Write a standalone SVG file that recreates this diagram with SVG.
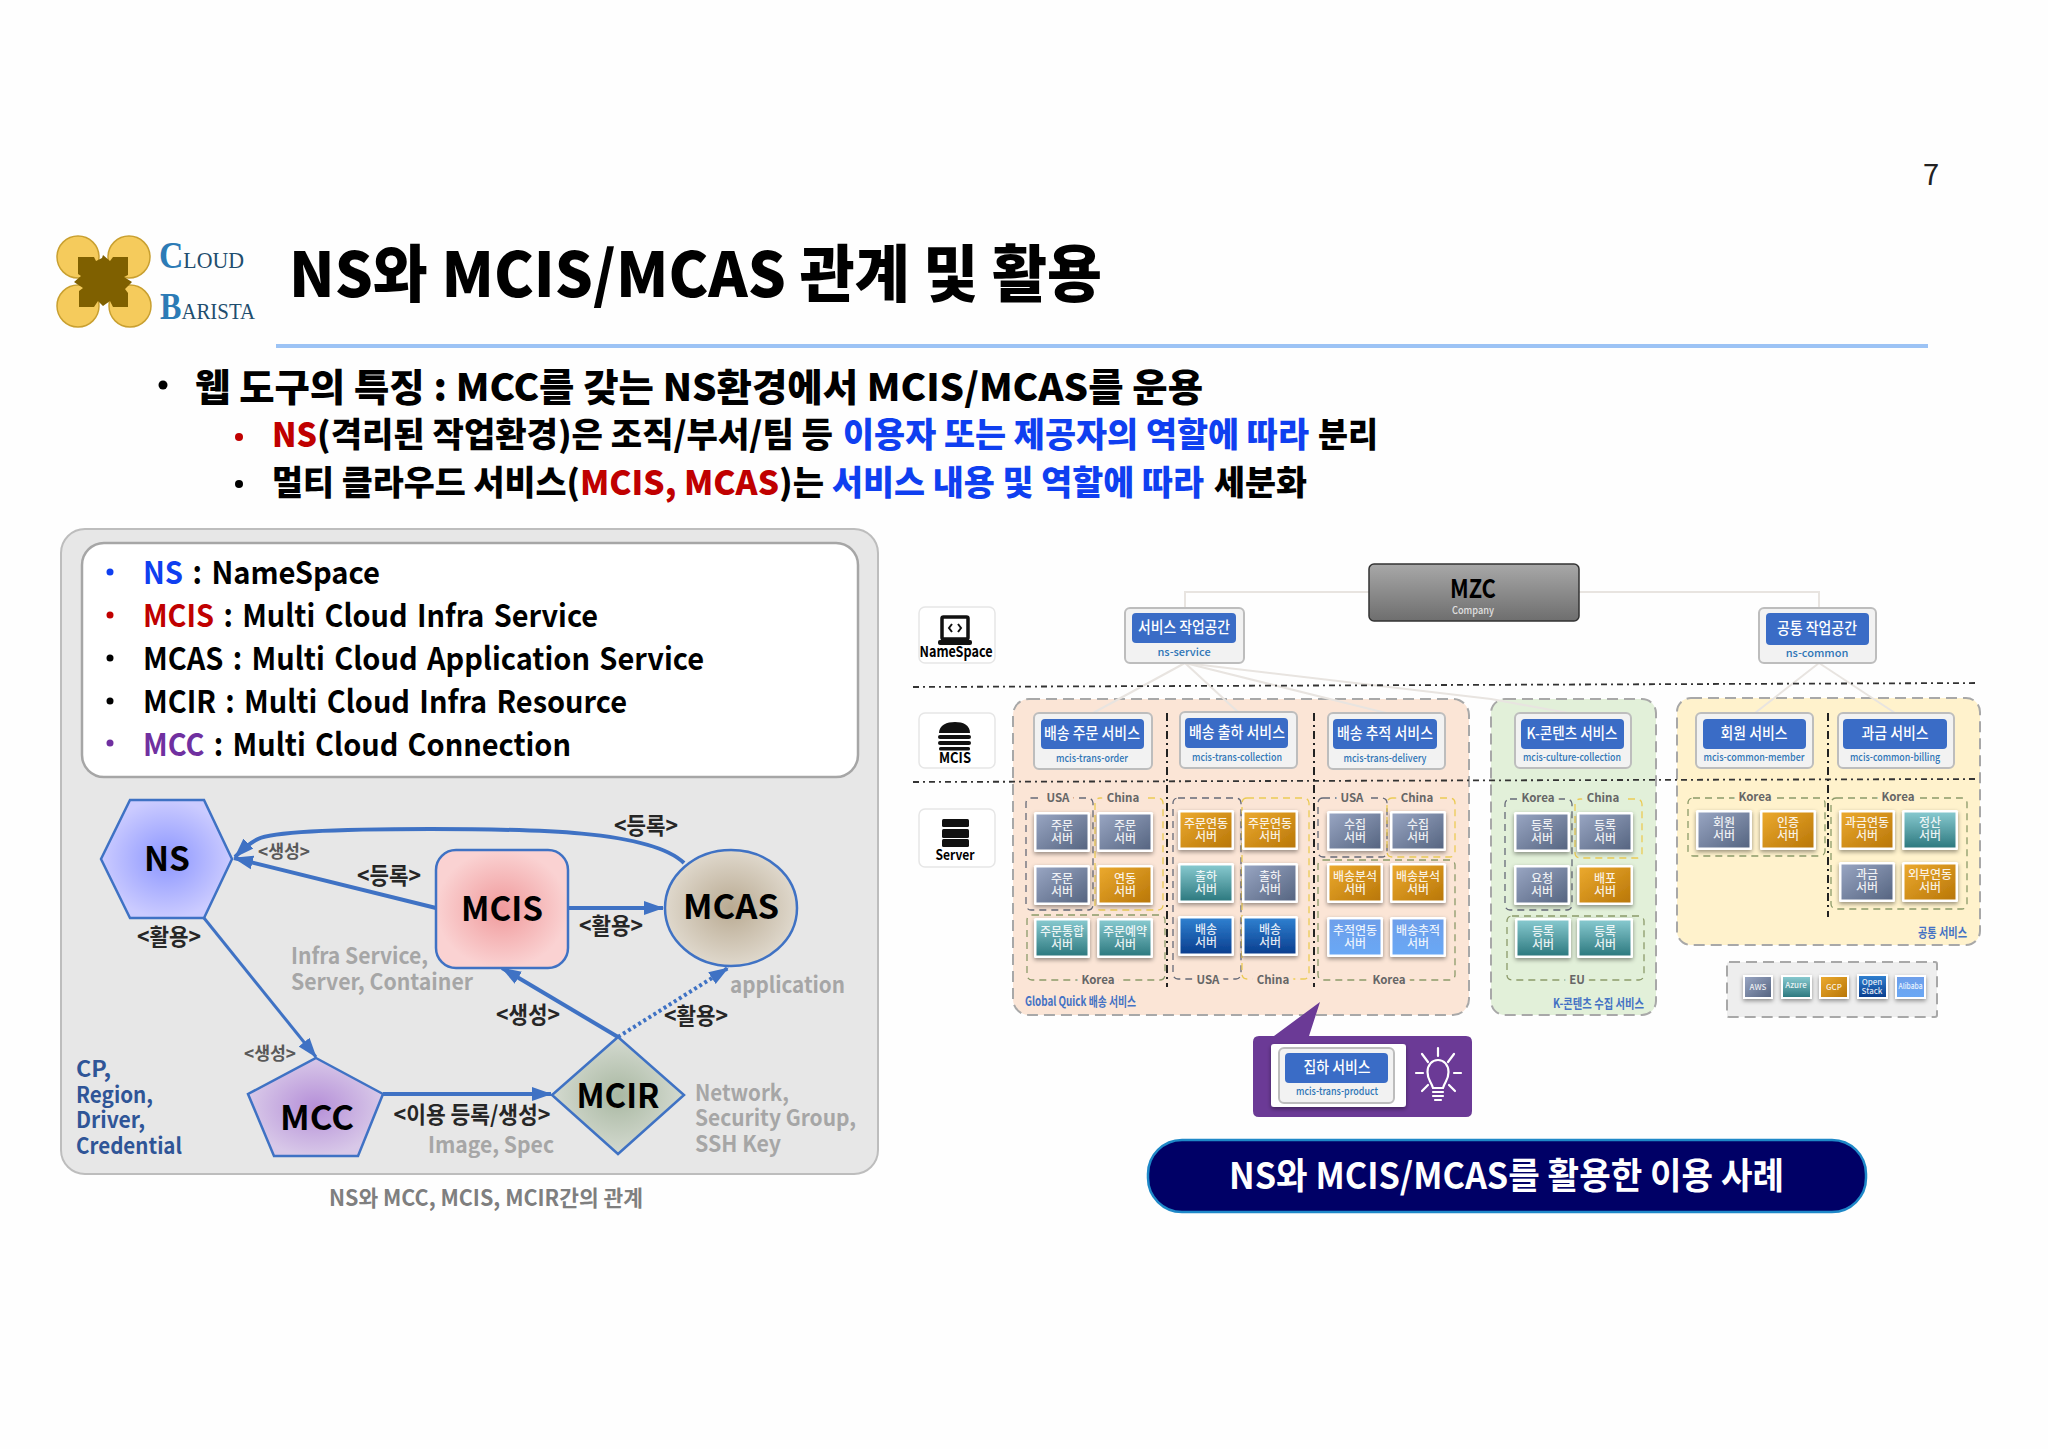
<svg xmlns="http://www.w3.org/2000/svg" width="2048" height="1449" viewBox="0 0 2048 1449">
<style>
text{font-family:"Noto Sans CJK KR","Noto Sans",sans-serif;font-weight:700;fill:#000}
.m{text-anchor:middle}
.hl{font-size:34px;font-weight:900}.bl{fill:#0F3FF0}.rd{fill:#C00000}.pp{fill:#7030A0}
.lg{font-size:31px;word-spacing:3px}
.nd{stroke:#3F72C4;stroke-width:2.5}
.nt{font-size:34px;text-anchor:middle}
.ed{fill:none;stroke:#3F72C4;stroke-width:4}
.lb{font-size:23px;text-anchor:middle;fill:#262626}
.lbs{font-size:18px;text-anchor:middle;fill:#595959}
.gr{font-size:22px;fill:#A6A6A6}
.cp{font-size:22px;fill:#2F5597}
.thin{fill:none;stroke:#E8E4E0;stroke-width:2}
.dd{fill:none;stroke:#333;stroke-width:1.8;stroke-dasharray:6 4 2 4}
.vd{fill:none;stroke:#222;stroke-width:2;stroke-dasharray:8 4 2 4}
.panel{stroke:#A8A8A8;stroke-width:2;stroke-dasharray:11 6}
.card{fill:#F2F2F2;stroke:#BDBDBD;stroke-width:2}
.inner{fill:#3A6CC6}
.ct{font-size:15.5px;fill:#fff;text-anchor:middle;font-weight:500}
.cs{font-size:11px;fill:#2E75B6;text-anchor:middle;font-weight:500}
.icard{fill:#fff;stroke:#E6E6E6;stroke-width:1.5}
.il{font-size:15px;text-anchor:middle}
.rb{fill:none;stroke-width:1.3;stroke-dasharray:7 5}
.r1{stroke:#666A78}.r2{stroke:#EBCB55}.r3{stroke:#8C9A6A}
.rl{font-size:11.5px;text-anchor:middle;fill:#666;stroke-width:10;paint-order:stroke}
.on{stroke:#FBE5D6}.gn{stroke:#E2F0D9}.yl{stroke:#FFF2CC}
.st{font-size:12px;fill:#fff;fill-opacity:.88;text-anchor:middle;font-weight:500}
.pn{font-size:13px;fill:#4472C4;font-weight:700}
.bulb{fill:none;stroke:#fff;stroke-width:2.2;stroke-linecap:round}
</style>
<defs>
<radialGradient id="gNS"><stop offset="0" stop-color="#8C96FF"/><stop offset="1" stop-color="#CBCBFF"/></radialGradient>
<radialGradient id="gIS"><stop offset="0" stop-color="#F09A9C"/><stop offset="1" stop-color="#FAD2D2"/></radialGradient>
<radialGradient id="gAS"><stop offset="0" stop-color="#B9AA92"/><stop offset="1" stop-color="#DFD8CC"/></radialGradient>
<radialGradient id="gCC"><stop offset="0" stop-color="#B58FD8"/><stop offset="1" stop-color="#D8C8E8"/></radialGradient>
<radialGradient id="gIR"><stop offset="0" stop-color="#A9B8A2"/><stop offset="1" stop-color="#D4DAD0"/></radialGradient>
<linearGradient id="gMZ" x1="0" y1="0" x2="0" y2="1"><stop offset="0" stop-color="#A8A8A8"/><stop offset="1" stop-color="#6E6E6E"/></linearGradient>
<linearGradient id="s1" x1="0" y1="0" x2="1" y2="1"><stop offset="0" stop-color="#98A5C2"/><stop offset="1" stop-color="#566581"/></linearGradient>
<linearGradient id="s2" x1="0" y1="0" x2="1" y2="1"><stop offset="0" stop-color="#EBA92E"/><stop offset="1" stop-color="#B97708"/></linearGradient>
<linearGradient id="s3" x1="0" y1="0" x2="0" y2="1"><stop offset="0" stop-color="#86C8CE"/><stop offset="1" stop-color="#2E7A80"/></linearGradient>
<linearGradient id="s4" x1="0" y1="0" x2="0" y2="1"><stop offset="0" stop-color="#2F7FCF"/><stop offset="1" stop-color="#0A3F8F"/></linearGradient>
<linearGradient id="s5" x1="0" y1="0" x2="0" y2="1"><stop offset="0" stop-color="#6E9FEA"/><stop offset="1" stop-color="#6AA8F5"/></linearGradient>
<filter id="sh" x="-20%" y="-20%" width="140%" height="150%"><feDropShadow dx="0" dy="2" stdDeviation="2" flood-color="#000" flood-opacity=".4"/></filter>
<g id="v1" filter="url(#sh)"><rect width="56" height="40" rx="1.5" fill="#fff"/><rect x="2.5" y="2.5" width="51" height="35" fill="url(#s1)"/></g>
<g id="v2" filter="url(#sh)"><rect width="56" height="40" rx="1.5" fill="#fff"/><rect x="2.5" y="2.5" width="51" height="35" fill="url(#s2)"/></g>
<g id="v3" filter="url(#sh)"><rect width="56" height="40" rx="1.5" fill="#fff"/><rect x="2.5" y="2.5" width="51" height="35" fill="url(#s3)"/></g>
<g id="v4" filter="url(#sh)"><rect width="56" height="40" rx="1.5" fill="#fff"/><rect x="2.5" y="2.5" width="51" height="35" fill="url(#s4)"/></g>
<g id="v5" filter="url(#sh)"><rect width="56" height="40" rx="1.5" fill="#fff"/><rect x="2.5" y="2.5" width="51" height="35" fill="url(#s5)"/></g>
<marker id="ah" markerUnits="userSpaceOnUse" markerWidth="20" markerHeight="16" refX="19" refY="8" orient="auto"><path d="M0,1 L20,8 L0,15 Z" fill="#3F72C4"/></marker>
</defs>
<rect width="2048" height="1449" fill="#FEFEFE"/>
<text x="1931" y="185" class="m" style="font-size:29px;font-weight:400;fill:#222">7</text>

<g id="logo">
<ellipse cx="78" cy="257" rx="21" ry="21" fill="#F5CB5C" stroke="#C9A030" stroke-width="1.5"/>
<ellipse cx="129" cy="257" rx="21" ry="21" fill="#F5CB5C" stroke="#C9A030" stroke-width="1.5"/>
<ellipse cx="78" cy="306" rx="21" ry="21" fill="#F5CB5C" stroke="#C9A030" stroke-width="1.5"/>
<ellipse cx="130" cy="306" rx="21" ry="21" fill="#F5CB5C" stroke="#C9A030" stroke-width="1.5"/>
<path d="M78,257 L94,257 L96,261 L102,258 L103,255 L110,261 L113,257 L128,257 L128,275 L124,277 L132,282 L125,289 L128,293 L128,307 L113,307 L110,301 L103,306 L98,301 L94,307 L79,307 L79,291 L83,288 L74,282 L81,276 L78,274 Z" fill="#7F6000"/>
<text x="159" y="268" style="font-family:'Liberation Serif',serif;font-weight:700;font-size:37px;fill:#2C7BB6" textLength="85" lengthAdjust="spacingAndGlyphs">C<tspan style="font-size:24px;font-weight:400;fill:#1F4E6E">LOUD</tspan></text>
<text x="160" y="319" style="font-family:'Liberation Serif',serif;font-weight:700;font-size:37px;fill:#2C7BB6" textLength="95" lengthAdjust="spacingAndGlyphs">B<tspan style="font-size:24px;font-weight:400;fill:#1F4E6E">ARISTA</tspan></text>
</g>

<text x="289" y="297" style="font-size:62px;font-weight:900" textLength="813" lengthAdjust="spacingAndGlyphs">NS와 MCIS/MCAS 관계 및 활용</text>
<rect x="276" y="344" width="1652" height="4" fill="#9CC3F5"/>

<circle cx="163" cy="385" r="4.5" fill="#000"/>
<text x="195" y="401" style="font-size:38px;font-weight:900" textLength="1008" lengthAdjust="spacingAndGlyphs">웹 도구의 특징 : MCC를 갖는 NS환경에서 MCIS/MCAS를 운용</text>
<circle cx="239" cy="437" r="4" fill="#C00000"/>
<text x="272" y="447" class="hl rd" textLength="45" lengthAdjust="spacingAndGlyphs">NS</text>
<text x="317" y="447" class="hl" textLength="516" lengthAdjust="spacingAndGlyphs">(격리된 작업환경)은 조직/부서/팀 등</text>
<text x="843" y="447" class="hl bl" textLength="466" lengthAdjust="spacingAndGlyphs">이용자 또는 제공자의 역할에 따라</text>
<text x="1318" y="447" class="hl" textLength="60" lengthAdjust="spacingAndGlyphs">분리</text>
<circle cx="239" cy="484" r="4" fill="#000"/>
<text x="272" y="495" class="hl" textLength="308" lengthAdjust="spacingAndGlyphs">멀티 클라우드 서비스(</text>
<text x="580" y="495" class="hl rd" textLength="199" lengthAdjust="spacingAndGlyphs">MCIS, MCAS</text>
<text x="779" y="495" class="hl" textLength="45" lengthAdjust="spacingAndGlyphs">)는</text>
<text x="832" y="495" class="hl bl" textLength="372" lengthAdjust="spacingAndGlyphs">서비스 내용 및 역할에 따라</text>
<text x="1214" y="495" class="hl" textLength="93" lengthAdjust="spacingAndGlyphs">세분화</text>

<g id="left-panel">
<rect x="61" y="529" width="817" height="645" rx="24" fill="#E7E7E7" stroke="#BDBDBD" stroke-width="2"/>
<rect x="82" y="543" width="776" height="234" rx="22" fill="#fff" stroke="#A6A6A6" stroke-width="2.5"/>
<circle cx="110" cy="572" r="3.5" fill="#0F3FF0"/><text x="143" y="584" class="lg" textLength="237" lengthAdjust="spacingAndGlyphs"><tspan class="bl">NS</tspan> : NameSpace</text>
<circle cx="110" cy="615" r="3.5" fill="#C00000"/><text x="143" y="627" class="lg" textLength="455" lengthAdjust="spacingAndGlyphs"><tspan class="rd">MCIS</tspan> : Multi Cloud Infra Service</text>
<circle cx="110" cy="658" r="3.5" fill="#000"/><text x="143" y="670" class="lg" textLength="561" lengthAdjust="spacingAndGlyphs">MCAS : Multi Cloud Application Service</text>
<circle cx="110" cy="701" r="3.5" fill="#000"/><text x="143" y="713" class="lg" textLength="484" lengthAdjust="spacingAndGlyphs">MCIR : Multi Cloud Infra Resource</text>
<circle cx="110" cy="743" r="3.5" fill="#7030A0"/><text x="143" y="756" class="lg" textLength="428" lengthAdjust="spacingAndGlyphs"><tspan class="pp">MCC</tspan> : Multi Cloud Connection</text>
</g>

<g id="connectors-left">
<path class="ed" d="M684,863 C650,830 530,829 430,829 C340,829 272,832 258,839 C248,844 242,850 235,857" marker-end="url(#ah)"/>
<path class="ed" d="M436,908 L234,858" marker-end="url(#ah)"/>
<path class="ed" d="M568,908 L663,908" marker-end="url(#ah)"/>
<path class="ed" style="stroke-width:3" d="M204,918 L316,1057" marker-end="url(#ah)"/>
<path class="ed" d="M383,1094 L551,1094" marker-end="url(#ah)"/>
<path class="ed" d="M618,1037 L502,968" marker-end="url(#ah)"/>
<path class="ed" d="M618,1037 L728,968" stroke-dasharray="3 3" marker-end="url(#ah)"/>
</g>

<g id="NS"><polygon class="nd" points="101,859 130,800 204,800 232,859 204,918 130,918" fill="url(#gNS)"/><text x="167" y="871" class="nt" textLength="46" lengthAdjust="spacingAndGlyphs">NS</text></g>
<g id="MCIS"><rect class="nd" x="436" y="850" width="132" height="118" rx="20" fill="url(#gIS)"/><text x="502" y="921" class="nt" textLength="82" lengthAdjust="spacingAndGlyphs">MCIS</text></g>
<g id="MCAS"><ellipse class="nd" cx="731" cy="908" rx="66" ry="58" fill="url(#gAS)"/><text x="731" y="919" class="nt" textLength="96" lengthAdjust="spacingAndGlyphs">MCAS</text></g>
<g id="MCC"><polygon class="nd" points="316,1058 383,1094 358,1156 274,1156 248,1094" fill="url(#gCC)"/><text x="317" y="1130" class="nt" textLength="74" lengthAdjust="spacingAndGlyphs">MCC</text></g>
<g id="MCIR"><polygon class="nd" points="618,1037 684,1095 618,1154 552,1095" fill="url(#gIR)"/><text x="618" y="1108" class="nt" textLength="83" lengthAdjust="spacingAndGlyphs">MCIR</text></g>

<g id="left-labels">
<text x="646" y="834" class="lb" textLength="64" lengthAdjust="spacingAndGlyphs">&lt;등록&gt;</text>
<text x="284" y="858" class="lbs" textLength="52" lengthAdjust="spacingAndGlyphs">&lt;생성&gt;</text>
<text x="389" y="884" class="lb" textLength="64" lengthAdjust="spacingAndGlyphs">&lt;등록&gt;</text>
<text x="611" y="934" class="lb" textLength="64" lengthAdjust="spacingAndGlyphs">&lt;활용&gt;</text>
<text x="169" y="945" class="lb" textLength="64" lengthAdjust="spacingAndGlyphs">&lt;활용&gt;</text>
<text x="528" y="1023" class="lb" textLength="64" lengthAdjust="spacingAndGlyphs">&lt;생성&gt;</text>
<text x="696" y="1024" class="lb" textLength="64" lengthAdjust="spacingAndGlyphs">&lt;활용&gt;</text>
<text x="270" y="1060" class="lbs" textLength="52" lengthAdjust="spacingAndGlyphs">&lt;생성&gt;</text>
<text x="472" y="1123" class="lb" textLength="157" lengthAdjust="spacingAndGlyphs">&lt;이용 등록/생성&gt;</text>
<text x="291" y="964" class="gr" textLength="137" lengthAdjust="spacingAndGlyphs">Infra Service,</text>
<text x="291" y="990" class="gr" textLength="182" lengthAdjust="spacingAndGlyphs">Server, Container</text>
<text x="730" y="993" class="gr" textLength="115" lengthAdjust="spacingAndGlyphs">application</text>
<text x="428" y="1153" class="gr" textLength="126" lengthAdjust="spacingAndGlyphs">Image, Spec</text>
<text x="695" y="1101" class="gr" textLength="94" lengthAdjust="spacingAndGlyphs">Network,</text>
<text x="695" y="1126" class="gr" textLength="161" lengthAdjust="spacingAndGlyphs">Security Group,</text>
<text x="695" y="1152" class="gr" textLength="86" lengthAdjust="spacingAndGlyphs">SSH Key</text>
<text x="76" y="1077" class="cp" textLength="35" lengthAdjust="spacingAndGlyphs">CP,</text>
<text x="76" y="1103" class="cp" textLength="77" lengthAdjust="spacingAndGlyphs">Region,</text>
<text x="76" y="1128" class="cp" textLength="69" lengthAdjust="spacingAndGlyphs">Driver,</text>
<text x="76" y="1154" class="cp" textLength="106" lengthAdjust="spacingAndGlyphs">Credential</text>
</g>
<text x="329" y="1206" style="font-size:22px;fill:#7F7F7F" textLength="314" lengthAdjust="spacingAndGlyphs">NS와 MCC, MCIS, MCIR간의 관계</text>

<g id="panels">
<rect class="panel" x="1013" y="699" width="456" height="316" rx="16" fill="#FBE5D6"/>
<rect class="panel" x="1491" y="699" width="165" height="316" rx="14" fill="#E2F0D9"/>
<rect class="panel" x="1677" y="698" width="303" height="247" rx="14" fill="#FFF2CC"/>
<rect class="panel" x="1727" y="962" width="210" height="55" rx="2" fill="#EEEEEE"/>
</g>

<g id="connectors-right">
<path class="thin" d="M1185,608 V592 H1369"/>
<path class="thin" d="M1579,592 H1819 V608"/>
<path class="thin" d="M1185,663 L1093,713"/>
<path class="thin" d="M1185,663 L1238,712"/>
<path class="thin" d="M1185,663 L1386,713"/>
<path class="thin" d="M1185,663 L1491,699 L1568,713"/>
<path class="thin" d="M1819,663 L1755,713"/>
<path class="thin" d="M1819,663 L1895,713"/>
<path class="dd" d="M913,687 L1978,683"/>
<path class="dd" d="M913,782 L1975,779"/>
<path class="vd" d="M1167,713 V987"/>
<path class="vd" d="M1314,713 V987"/>
<path class="vd" d="M1828,713 V917"/>
</g>

<g id="MZC"><rect x="1369" y="564" width="210" height="57" rx="5" fill="url(#gMZ)" stroke="#333" stroke-width="1.5"/><text x="1473" y="598" class="m" style="font-size:26px" textLength="46" lengthAdjust="spacingAndGlyphs">MZC</text><text x="1473" y="614" class="m" style="font-size:10.5px;fill:#E0E0E0;font-weight:500" textLength="42" lengthAdjust="spacingAndGlyphs">Company</text></g>

<g id="icon-namespace"><rect class="icard" x="919" y="607" width="76" height="56" rx="6"/><rect x="942" y="617" width="26" height="22" rx="1.5" fill="#fff" stroke="#111" stroke-width="3.5"/><path d="M952,624 L949,628 L952,632 M958,624 L961,628 L958,632" fill="none" stroke="#111" stroke-width="2"/><rect x="938" y="640" width="34" height="5" rx="2" fill="#111"/><text x="956" y="657" class="il" textLength="73" lengthAdjust="spacingAndGlyphs">NameSpace</text></g>
<g id="icon-mcis"><rect class="icard" x="919" y="713" width="76" height="55" rx="6"/><path d="M939,733 C939,725 947,722 955,722 C963,722 970,725 970,733 Z" fill="#111"/><rect x="938" y="735" width="33" height="4" rx="2" fill="#111"/><rect x="938" y="741" width="33" height="4" rx="2" fill="#111"/><rect x="939" y="747" width="31" height="3.500" rx="1.500" fill="#111"/><text x="955" y="763" class="il" textLength="32" lengthAdjust="spacingAndGlyphs">MCIS</text></g>
<g id="icon-server"><rect class="icard" x="919" y="809" width="76" height="58" rx="6"/><rect x="942" y="819" width="27" height="8" rx="1.5" fill="#111"/><rect x="942" y="829" width="27" height="9" rx="1.5" fill="#111"/><rect x="942" y="839" width="27" height="8" rx="1.5" fill="#111"/><text x="955" y="860" class="il" style="font-size:14px" textLength="39" lengthAdjust="spacingAndGlyphs">Server</text></g>

<g id="ns-service"><rect class="card" x="1125" y="608" width="119" height="55" rx="5"/><rect class="inner" x="1132" y="613" width="104" height="30" rx="4"/><text x="1184" y="633" class="ct" textLength="92" lengthAdjust="spacingAndGlyphs">서비스 작업공간</text><text x="1184" y="656" class="cs">ns-service</text></g>
<g id="ns-common"><rect class="card" x="1759" y="608" width="117" height="55" rx="5"/><rect class="inner" x="1766" y="613" width="103" height="32" rx="4"/><text x="1817" y="634" class="ct" textLength="80" lengthAdjust="spacingAndGlyphs">공통 작업공간</text><text x="1817" y="657" class="cs">ns-common</text></g>
<g id="svc-order"><rect class="card" x="1034" y="713" width="118" height="56" rx="5"/><rect class="inner" x="1041" y="719" width="103" height="30" rx="4"/><text x="1092" y="739" class="ct" textLength="96" lengthAdjust="spacingAndGlyphs">배송 주문 서비스</text><text x="1092" y="762" class="cs" textLength="72" lengthAdjust="spacingAndGlyphs">mcis-trans-order</text></g>
<g id="svc-collection"><rect class="card" x="1180" y="712" width="117" height="56" rx="5"/><rect class="inner" x="1185" y="718" width="103" height="30" rx="4"/><text x="1237" y="738" class="ct" textLength="96" lengthAdjust="spacingAndGlyphs">배송 출하 서비스</text><text x="1237" y="761" class="cs" textLength="90" lengthAdjust="spacingAndGlyphs">mcis-trans-collection</text></g>
<g id="svc-delivery"><rect class="card" x="1328" y="713" width="117" height="56" rx="5"/><rect class="inner" x="1333" y="719" width="104" height="30" rx="4"/><text x="1385" y="739" class="ct" textLength="96" lengthAdjust="spacingAndGlyphs">배송 추적 서비스</text><text x="1385" y="762" class="cs" textLength="83" lengthAdjust="spacingAndGlyphs">mcis-trans-delivery</text></g>
<g id="svc-culture"><rect class="card" x="1515" y="713" width="116" height="55" rx="5"/><rect class="inner" x="1521" y="719" width="103" height="30" rx="4"/><text x="1572" y="739" class="ct" textLength="91" lengthAdjust="spacingAndGlyphs">K-콘텐츠 서비스</text><text x="1572" y="761" class="cs" textLength="98" lengthAdjust="spacingAndGlyphs">mcis-culture-collection</text></g>
<g id="svc-member"><rect class="card" x="1696" y="713" width="117" height="55" rx="5"/><rect class="inner" x="1703" y="719" width="103" height="30" rx="4"/><text x="1754" y="739" class="ct" textLength="67" lengthAdjust="spacingAndGlyphs">회원 서비스</text><text x="1754" y="761" class="cs" textLength="101" lengthAdjust="spacingAndGlyphs">mcis-common-member</text></g>
<g id="svc-billing"><rect class="card" x="1838" y="713" width="116" height="55" rx="5"/><rect class="inner" x="1843" y="719" width="104" height="30" rx="4"/><text x="1895" y="739" class="ct" textLength="67" lengthAdjust="spacingAndGlyphs">과금 서비스</text><text x="1895" y="761" class="cs" textLength="90" lengthAdjust="spacingAndGlyphs">mcis-common-billing</text></g>

<g id="regions">
<rect class="rb r1" x="1026" y="798" width="67" height="112" rx="5"/><rect class="rb r2" x="1095" y="798" width="68" height="112" rx="5"/><rect class="rb r3" x="1027" y="915" width="138" height="65" rx="5"/>
<rect class="rb r1" x="1173" y="798" width="68" height="181" rx="5"/><rect class="rb r2" x="1242" y="798" width="67" height="181" rx="5"/>
<rect class="rb r1" x="1318" y="798" width="69" height="59" rx="5"/><rect class="rb r2" x="1387" y="798" width="68" height="59" rx="5"/><rect class="rb r3" x="1318" y="860" width="137" height="120" rx="5"/>
<rect class="rb r1" x="1505" y="799" width="67" height="111" rx="5"/><rect class="rb r2" x="1575" y="799" width="67" height="59" rx="5"/><rect class="rb r3" x="1507" y="916" width="137" height="64" rx="5"/>
<rect class="rb r3" x="1688" y="798" width="137" height="58" rx="5"/><rect class="rb r3" x="1831" y="798" width="136" height="111" rx="5"/>
<text x="1058" y="802" class="rl on">USA</text><text x="1123" y="802" class="rl on">China</text><text x="1098" y="984" class="rl on">Korea</text>
<text x="1208" y="984" class="rl on">USA</text><text x="1273" y="984" class="rl on">China</text>
<text x="1352" y="802" class="rl on">USA</text><text x="1417" y="802" class="rl on">China</text><text x="1389" y="984" class="rl on">Korea</text>
<text x="1538" y="802" class="rl gn">Korea</text><text x="1603" y="802" class="rl gn">China</text><text x="1577" y="984" class="rl gn">EU</text>
<text x="1755" y="801" class="rl yl">Korea</text><text x="1898" y="801" class="rl yl">Korea</text>
</g>

<g id="servers">
<g id="sv01"><use href="#v1" x="1034" y="812"/><text class="st" x="1062" y="830">주문</text><text class="st" x="1062" y="843">서버</text></g>
<g id="sv02"><use href="#v1" x="1097" y="812"/><text class="st" x="1125" y="830">주문</text><text class="st" x="1125" y="843">서버</text></g>
<g id="sv03"><use href="#v1" x="1034" y="865"/><text class="st" x="1062" y="883">주문</text><text class="st" x="1062" y="896">서버</text></g>
<g id="sv04"><use href="#v2" x="1097" y="865"/><text class="st" x="1125" y="883">연동</text><text class="st" x="1125" y="896">서버</text></g>
<g id="sv05"><use href="#v3" x="1034" y="918"/><text class="st" x="1062" y="936">주문통합</text><text class="st" x="1062" y="949">서버</text></g>
<g id="sv06"><use href="#v3" x="1097" y="918"/><text class="st" x="1125" y="936">주문예약</text><text class="st" x="1125" y="949">서버</text></g>
<g id="sv07"><use href="#v2" x="1178" y="810"/><text class="st" x="1206" y="828">주문연동</text><text class="st" x="1206" y="841">서버</text></g>
<g id="sv08"><use href="#v2" x="1242" y="810"/><text class="st" x="1270" y="828">주문연동</text><text class="st" x="1270" y="841">서버</text></g>
<g id="sv09"><use href="#v3" x="1178" y="863"/><text class="st" x="1206" y="881">출하</text><text class="st" x="1206" y="894">서버</text></g>
<g id="sv10"><use href="#v1" x="1242" y="863"/><text class="st" x="1270" y="881">출하</text><text class="st" x="1270" y="894">서버</text></g>
<g id="sv11"><use href="#v4" x="1178" y="916"/><text class="st" x="1206" y="934">배송</text><text class="st" x="1206" y="947">서버</text></g>
<g id="sv12"><use href="#v4" x="1242" y="916"/><text class="st" x="1270" y="934">배송</text><text class="st" x="1270" y="947">서버</text></g>
<g id="sv13"><use href="#v1" x="1327" y="811"/><text class="st" x="1355" y="829">수집</text><text class="st" x="1355" y="842">서버</text></g>
<g id="sv14"><use href="#v1" x="1390" y="811"/><text class="st" x="1418" y="829">수집</text><text class="st" x="1418" y="842">서버</text></g>
<g id="sv15"><use href="#v2" x="1327" y="863"/><text class="st" x="1355" y="881">배송분석</text><text class="st" x="1355" y="894">서버</text></g>
<g id="sv16"><use href="#v2" x="1390" y="863"/><text class="st" x="1418" y="881">배송분석</text><text class="st" x="1418" y="894">서버</text></g>
<g id="sv17"><use href="#v5" x="1327" y="917"/><text class="st" x="1355" y="935">추적연동</text><text class="st" x="1355" y="948">서버</text></g>
<g id="sv18"><use href="#v5" x="1390" y="917"/><text class="st" x="1418" y="935">배송추적</text><text class="st" x="1418" y="948">서버</text></g>
<g id="sv19"><use href="#v1" x="1514" y="812"/><text class="st" x="1542" y="830">등록</text><text class="st" x="1542" y="843">서버</text></g>
<g id="sv20"><use href="#v1" x="1577" y="812"/><text class="st" x="1605" y="830">등록</text><text class="st" x="1605" y="843">서버</text></g>
<g id="sv21"><use href="#v1" x="1514" y="865"/><text class="st" x="1542" y="883">요청</text><text class="st" x="1542" y="896">서버</text></g>
<g id="sv22"><use href="#v2" x="1577" y="865"/><text class="st" x="1605" y="883">배포</text><text class="st" x="1605" y="896">서버</text></g>
<g id="sv23"><use href="#v3" x="1515" y="918"/><text class="st" x="1543" y="936">등록</text><text class="st" x="1543" y="949">서버</text></g>
<g id="sv24"><use href="#v3" x="1577" y="918"/><text class="st" x="1605" y="936">등록</text><text class="st" x="1605" y="949">서버</text></g>
<g id="sv25"><use href="#v1" x="1696" y="810"/><text class="st" x="1724" y="827">회원</text><text class="st" x="1724" y="840">서버</text></g>
<g id="sv26"><use href="#v2" x="1760" y="810"/><text class="st" x="1788" y="827">인증</text><text class="st" x="1788" y="840">서버</text></g>
<g id="sv27"><use href="#v2" x="1839" y="810"/><text class="st" x="1867" y="827">과금연동</text><text class="st" x="1867" y="840">서버</text></g>
<g id="sv28"><use href="#v3" x="1902" y="810"/><text class="st" x="1930" y="827">정산</text><text class="st" x="1930" y="840">서버</text></g>
<g id="sv29"><use href="#v1" x="1839" y="862"/><text class="st" x="1867" y="879">과금</text><text class="st" x="1867" y="892">서버</text></g>
<g id="sv30"><use href="#v2" x="1902" y="862"/><text class="st" x="1930" y="879">외부연동</text><text class="st" x="1930" y="892">서버</text></g>
</g>

<text x="1025" y="1006" class="pn" textLength="111" lengthAdjust="spacingAndGlyphs">Global Quick 배송 서비스</text>
<text x="1644" y="1008" class="pn" style="text-anchor:end" textLength="91" lengthAdjust="spacingAndGlyphs">K-콘텐츠 수집 서비스</text>
<text x="1967" y="937" class="pn" style="text-anchor:end" textLength="49" lengthAdjust="spacingAndGlyphs">공통 서비스</text>

<g id="clouds">
<g id="c-aws"><rect x="1743" y="975" width="30" height="24" fill="#fff" filter="url(#sh)"/><rect x="1745" y="977" width="26" height="20" fill="url(#s1)"/><text x="1758" y="990" class="st" style="font-size:8px">AWS</text></g>
<g id="c-azure"><rect x="1781" y="975" width="31" height="24" fill="#fff" filter="url(#sh)"/><rect x="1783" y="977" width="27" height="20" fill="url(#s3)"/><text x="1796" y="988" class="st" style="font-size:8px">Azure</text></g>
<g id="c-gcp"><rect x="1819" y="975" width="30" height="24" fill="#fff" filter="url(#sh)"/><rect x="1821" y="977" width="26" height="20" fill="url(#s2)"/><text x="1834" y="990" class="st" style="font-size:8px">GCP</text></g>
<g id="c-open"><rect x="1857" y="974" width="31" height="25" fill="#fff" filter="url(#sh)"/><rect x="1859" y="976" width="27" height="21" fill="url(#s4)"/><text x="1872" y="985" class="st" style="font-size:8px">Open</text><text x="1872" y="994" class="st" style="font-size:8px">Stack</text></g>
<g id="c-alibaba"><rect x="1895" y="975" width="31" height="24" fill="#fff" filter="url(#sh)"/><rect x="1897" y="977" width="27" height="20" fill="url(#s5)"/><text x="1910.5" y="989" class="st" style="font-size:7.5px" textLength="24" lengthAdjust="spacingAndGlyphs">Alibaba</text></g>
</g>

<g id="callout">
<path d="M1259,1036 H1274 L1320,1002 L1309,1036 H1466 Q1472,1036 1472,1042 V1111 Q1472,1117 1466,1117 H1259 Q1253,1117 1253,1111 V1042 Q1253,1036 1259,1036 Z" fill="#6B3A96"/>
<rect x="1271" y="1044" width="135" height="63" rx="3" fill="#fff" filter="url(#sh)"/>
<rect class="card" x="1279" y="1048" width="115" height="55" rx="5"/>
<rect class="inner" x="1285" y="1053" width="103" height="30" rx="4"/>
<text x="1337" y="1073" class="ct" textLength="67" lengthAdjust="spacingAndGlyphs">집하 서비스</text>
<text x="1337" y="1095" class="cs" textLength="82" lengthAdjust="spacingAndGlyphs">mcis-trans-product</text>
<path class="bulb" d="M1433,1088 C1431,1081 1427.500,1080 1427.500,1072 C1427.500,1065 1432,1060 1438,1060 C1444,1060 1448.500,1065 1448.500,1072 C1448.500,1080 1445,1081 1443,1088 Z M1433,1092 H1443 M1433,1096 H1443 M1435,1100 H1441 M1438,1048 V1056 M1422,1054 L1428,1062 M1454,1054 L1448,1062 M1416,1073 H1423 M1454,1073 H1461 M1422,1091 L1428,1085 M1455,1091 L1449,1085"/>
</g>

<g id="usecase-banner">
<rect x="1148" y="1140" width="718" height="72" rx="34" fill="#000066" stroke="#1E88C8" stroke-width="2.5"/>
<text x="1229" y="1189" style="font-size:36px;fill:#fff" textLength="555" lengthAdjust="spacingAndGlyphs">NS와 MCIS/MCAS를 활용한 이용 사례</text>
</g>
</svg>
